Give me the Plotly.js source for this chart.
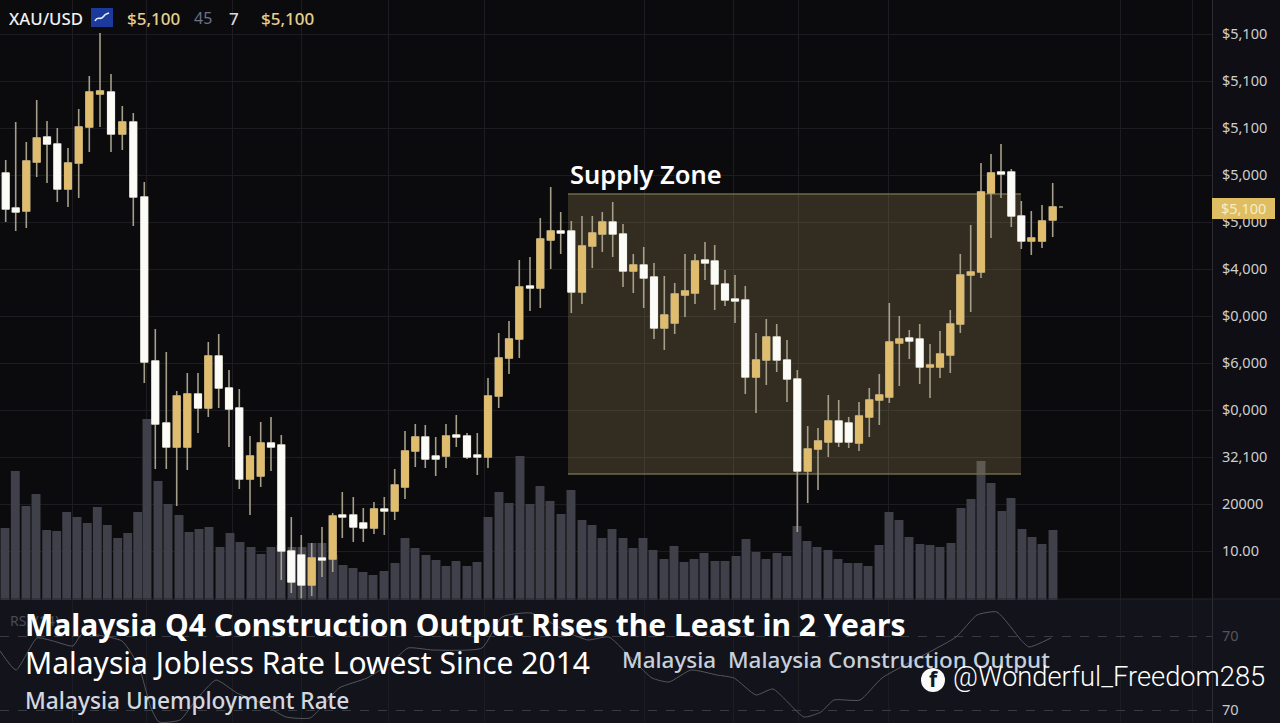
<!DOCTYPE html>
<html>
<head>
<meta charset="utf-8">
<script src="https://cdn.plot.ly/plotly-3.0.1.min.js"></script>
<style>html,body{margin:0;padding:0;background:#0e0e14;overflow:hidden}#chart{width:1280px;height:723px}</style>
</head>
<body>
<div id="chart"></div>
<script>
// Bar positions along the time axis
const candleX = [5.7,15.7,26.3,36.7,47,57.3,68,78.7,89.3,100,111,122.3,133.3,144.3,155.3,166.3,176.7,187.3,198,208.3,218.7,229,239.3,250,260.7,271,281.3,291.3,301.3,311.7,322,332.7,342.3,353.3,363.3,374,384.3,394.7,405,415.3,425.3,435.7,446,456.3,467,477.3,488,498.7,509,519.3,530,540.3,550.7,560.7,571.3,582,592.3,602.3,612.7,623,633.3,643.7,654,664.3,674.7,685,695,705,714.7,725,735,745.3,756,766.3,776.7,787,797.3,807.7,818,828.3,838.7,848.7,859,869.3,879.3,889.3,899.3,909.3,919.7,930,940,950.3,960.3,970.7,981,991,1001,1011.3,1021.3,1031.3,1042,1052.7];
const opens = [427,392,389,438,463,456,411,437,473,506,508,466,478,403,239,177,153,153,206,192,244,212,192,121,124,157,155,49,45,15,42,41,85,85,77,72,91,89,113,149,163,144,144,165,164,145,143,204,242,261,314,312,360,369,369,308,354,366,378,366,329,335,323,272,277,305,307,340,339,316,301,300,223,240,263,240,221,129,151,158,179,177,157,183,200,203,257,262,261,233,233,245,276,325,328,407,428,428,384,359,359,380];
const highs = [440,478,458,500,479,472,452,491,524,567,526,494,487,418,271,248,209,227,227,258,266,230,211,164,178,183,165,83,65,57,73,87,108,103,92,98,103,131,169,176,175,163,176,185,167,167,222,267,279,340,343,382,413,388,379,384,384,388,398,376,346,353,337,324,317,346,346,358,355,330,325,314,267,281,276,260,230,174,172,205,200,183,198,212,226,297,284,270,276,256,269,290,346,375,437,446,456,431,399,389,395,417];
const lows = [378,369,372,423,417,398,393,402,448,473,448,450,374,217,131,131,94,130,167,183,192,153,111,85,113,129,20,7,1,4,23,28,62,58,58,66,65,80,101,133,132,124,132,153,141,125,132,192,226,242,289,292,331,346,287,296,332,348,343,313,307,292,261,250,266,283,296,320,290,294,277,206,187,215,228,198,68,97,110,143,153,152,149,163,175,197,214,241,216,202,222,227,267,288,322,362,402,373,351,345,352,363];
const closes = [391,388,439,462,456,411,437,473,508,509,466,478,403,238,176,153,204,206,192,244,212,191,121,144,157,153,49,18,15,42,40,84,83,73,72,91,89,115,149,163,141,141,164,163,143,143,204,242,261,313,312,361,369,367,308,354,367,378,366,329,335,322,272,285,306,309,339,337,316,300,299,223,240,263,240,221,129,151,159,179,158,158,184,200,205,258,261,259,233,235,246,276,325,328,408,427,426,384,359,362,379,393];

const volumeX = [5,15.3,26,36,46.7,56.7,66.7,77,87.3,97.3,107.3,117.7,127.7,137.7,147,158,168,179,189,199,209,220,230,240,251,261,271,281,292,302,312,322,333,343,353,363,373,384,395,405,415,426,436,446,456,467,477,488,499,509,520,530,540,550,561,571,582,592,602,612,623,633,643,653,664,674,684,694,704,715,725,736,746,756,766,777,787,797,807,817,828,838,848,858,868,879,889,899,909,920,930,940,951,961,971,981,991,1002,1011,1022,1032,1042,1053];
const volumes = [72,129,94,106,70,69,88,83,77,93,75,62,67,88,181,119,96,85,68,71,73,53,67,58,53,46,53,55,53,53,57,57,45,35,32,28,25,29,37,62,52,45,40,34,39,34,38,83,108,97,144,96,114,99,86,110,80,75,62,71,62,52,62,50,41,54,38,41,47,39,39,44,61,48,41,47,44,74,59,53,50,41,37,37,34,55,88,80,63,56,55,53,57,92,101,139,117,89,102,71,63,56,70];

const rsiX = [0,16,37,53,73,82,122,139,151,159,180,196,216,237,261,286,310,322,339,367,392,408,433,482,502,531,571,588,609,635,652,669,691,717,734,756,773,804,821,834,860,882,956,977,997,1021,1029,1051];
const rsiValues = [72,53,85,82,77,89,82,56,15,1,3,23,43,30,20,6,5,16,35,45,61,75,73,75,106,110,89,83,86,61,45,41,53,48,45,28,34,6,11,23,23,45,86,108,111,83,76,85];

const zoneX = [568,1021,1021,568,568];
const zoneY = [406,406,126,126,406];
const zoneEdgeX = [568,1021,null,568,1021];
const zoneEdgeY = [406,406,null,126,126];

const priceTickVals = [566,519,472,425,378,331,284,237,190,143,96,49];
const priceTickText = ['$5,100','$5,100','$5,100','$5,000','$5,000','$4,000','$0,000','$6,000','$0,000','32,100','20000','10.00'];
const timeGrid = [72,146,232,301,388,484,644,733,798,888,1120,1192];
const rsiTickVals = [87,13];
const rsiTickText = ['<span style="fill:#55565c">70</span>','<span style="fill:#c8c9cc">70</span>'];

const GOLD = '#e0bd6e', WHITE = '#fbfbf8', WICK = '#a59e88';
const AXIS_W = 1212, H = 723;
const px = v => v / AXIS_W;
const py = v => 1 - v / H;

const wickSide = c => ({line:{color:WICK,width:1.6},fillcolor:c});
const bodySide = c => ({line:{color:c,width:1},fillcolor:c});

const traces = [
  {type:'bar',x:volumeX,y:volumes,width:8.9,xaxis:'x',yaxis:'y',
   marker:{color:'#40404a',line:{width:0}},hoverinfo:'skip'},
  {type:'scatter',mode:'none',x:zoneX,y:zoneY,fill:'toself',xaxis:'x',yaxis:'y',
   fillcolor:'rgba(225,195,110,0.19)',hoverinfo:'skip'},
  {type:'scatter',mode:'lines',x:zoneEdgeX,y:zoneEdgeY,xaxis:'x',yaxis:'y',
   line:{color:'#6f6849',width:1.3},hoverinfo:'skip'},
  {type:'candlestick',x:candleX,open:opens,high:highs,low:lows,close:closes,xaxis:'x',yaxis:'y2',
   increasing:wickSide(GOLD),decreasing:wickSide(WHITE),whiskerwidth:0,hoverinfo:'skip'},
  {type:'candlestick',x:candleX,open:opens,close:closes,
   high:opens.map((o,i)=>Math.max(o,closes[i])),low:opens.map((o,i)=>Math.min(o,closes[i])),
   xaxis:'x',yaxis:'y2',increasing:bodySide(GOLD),decreasing:bodySide(WHITE),whiskerwidth:0,hoverinfo:'skip'},
  {type:'scatter',mode:'lines',x:rsiX,y:rsiValues,xaxis:'x',yaxis:'y3',
   line:{color:'#55565c',width:1,shape:'spline',smoothing:0.5},hoverinfo:'skip'}
];

const FONT = '"Noto Sans", sans-serif';
const note = (text,x,y,size,color,weight,family) => ({
  text,xref:'paper',yref:'paper',x:px(x-2.5),y:py(y),xanchor:'left',yanchor:'middle',showarrow:false,
  font:{family:family||FONT,size,color,weight:weight||400}});

const annotations = [
  note('XAU/USD',9,18,16.8,'#eef0f2',500),
  note('$5,100',127,18,17,'#e3cf8f',500),
  note('45',194,18,16,'#6c7286'),
  note('7',229,18,17,'#d8d8d8',500),
  note('$5,100',261,18,17,'#e3cf8f',500),
  note('Supply Zone',570,173.5,25.5,'#ffffff',600),
  note('$5,100',1222,208,14.5,'#f6eccb'),
  note('RSI (14)',10,620,14,'#4a4b52'),
  note('Malaysia Q4 Construction Output Rises the Least in 2 Years',25,624,30,'#ffffff',700),
  note('Malaysia Jobless Rate Lowest Since 2014',25,662,30,'#ffffff'),
  note('Malaysia Unemployment Rate',25,700,22.7,'#d3d8e0',500),
  note('Malaysia  Malaysia Construction Output',622,659,22.5,'#c6d0dc',500),
  note('@Wonderful_Freedom285',953,677,27.3,'#ffffff',300,'Roboto, sans-serif'),
  note('f',929,679,21,'#15161c',700)
];

const rect = (x0,y0,x1,y1,fill,layer,line) => ({type:'rect',xref:'paper',yref:'paper',
  x0:px(x0),x1:px(x1),y0:py(y0),y1:py(y1),fillcolor:fill,layer:layer||'above',line:line||{width:0}});

const shapes = [
  rect(0,599,1280,723,'#13141b','below',{width:0}),
  {type:'line',xref:'paper',yref:'paper',x0:0,x1:px(1280),y0:py(599),y1:py(599),layer:'above',line:{color:'#24252c',width:1}},
  rect(91,8,113,27,'#1c3a9c'),
  {type:'path',xref:'paper',yref:'paper',layer:'above',line:{color:'#e8eefc',width:1.6},
   path:`M ${px(95)} ${py(21)} C ${px(98)} ${py(15)}, ${px(100)} ${py(21)}, ${px(103)} ${py(17)} S ${px(107)} ${py(14)}, ${px(109)} ${py(13)}`},
  rect(1212,198,1275,219,'#dfbe63'),
  {type:'circle',xref:'paper',yref:'paper',x0:px(921),x1:px(945),y0:py(668),y1:py(692),fillcolor:'#fafafa',layer:'above',line:{width:0}},
  rect(1059,206.5,1063,207.5,'#d8d0b0')
];

const layout = {
  width:1280,height:723,margin:{l:0,r:68,t:0,b:0,pad:0},
  paper_bgcolor:'#0e0e14',plot_bgcolor:'#0b0b0e',showlegend:false,
  boxgap:0.3,boxgroupgap:0,boxmode:'overlay',
  font:{family:FONT},
  xaxis:{range:[0,1212],domain:[0,1],anchor:'y',tickvals:timeGrid,showticklabels:false,ticks:'',
         showgrid:true,gridcolor:'#1c1c22',gridwidth:1,zeroline:false,showline:false,rangeslider:{visible:false}},
  yaxis:{range:[0,600],domain:[123/723,1],side:'right',anchor:'x',tickmode:'array',tickvals:priceTickVals,ticktext:priceTickText,
         ticks:'',ticklabelstandoff:6,tickfont:{family:FONT,size:14.5,color:'#cfcfd0'},
         showgrid:true,gridcolor:'#1c1c22',gridwidth:1,zeroline:false,showline:true,linecolor:'#2c2c33',linewidth:1},
  yaxis2:{range:[0,600],overlaying:'y',side:'right',anchor:'x',visible:false,showgrid:false},
  yaxis3:{range:[0,123],domain:[0,123/723],side:'right',anchor:'x',tickmode:'array',tickvals:rsiTickVals,ticktext:rsiTickText,
          ticks:'',ticklabelstandoff:6,tickfont:{family:FONT,size:14.5,color:'#c8c9cc'},
          showgrid:true,gridcolor:'#3a3b41',griddash:'dash',gridwidth:1,zeroline:false,showline:true,linecolor:'#2c2c33',linewidth:1},
  annotations,shapes
};

Plotly.newPlot('chart',traces,layout,{displayModeBar:false,staticPlot:true});
</script>
</body>
</html>
